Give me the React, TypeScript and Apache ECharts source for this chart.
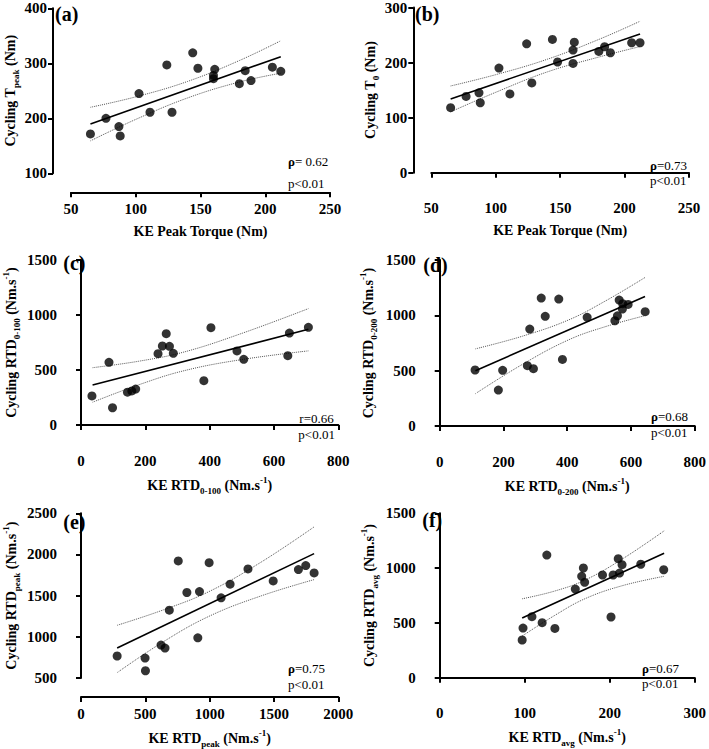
import React, { useEffect, useRef } from "react";
import * as echarts from "echarts";

const FONT = "Liberation Serif";

// ---------- data ----------
// (a) and (b): KE peak torque (Nm)
const keTorque = [65, 77, 87, 88, 102.5, 111, 124, 128, 144, 148, 161, 160, 160, 180, 184.5, 189, 205.5, 212];
const aY = [171.5, 200, 185, 168, 245, 211, 297, 211, 319, 291, 289, 278, 272, 263, 286.5, 268.5, 293, 285.5];
const bY = [118, 138.6, 145, 127, 190, 143, 234, 163, 242, 201, 237, 222.7, 198.5, 220.3, 228.7, 217.8, 236, 236];

const cX = [34, 87, 98, 144.5, 158, 170, 239.5, 253, 265, 275, 287, 382, 404, 485, 506, 643, 648, 707];
const cY = [264, 570, 157, 298, 310, 327, 648, 718, 830, 715, 652, 403, 885, 673, 597, 630, 836, 888];

const dX = [111, 184, 197.5, 275, 294, 282.5, 318.5, 331, 373.5, 385, 462.5, 549.5, 557.5, 563, 574, 591, 573, 644.5];
const dY = [506, 325, 503, 545, 518, 876, 1156, 991, 1147, 602, 982, 951, 996, 1138, 1105, 1099, 1057, 1033];

const eX = [281, 498, 501, 622, 653, 686.5, 756, 823, 908, 921, 996, 1089, 1159, 1298, 1494, 1690, 1747, 1812];
const eY = [767, 742, 588, 900, 864, 1324, 1922, 1538, 988, 1550, 1901, 1473, 1639, 1825, 1679, 1817, 1865, 1776];

const fX = [97, 98, 108.5, 120.5, 126, 135.5, 159.5, 167, 170.5, 169, 191.5, 201.5, 204, 210, 211.5, 214.5, 236.5, 263.5];
const fY = [344, 453, 557, 502, 1119, 450, 809, 925, 870, 1001, 937, 554, 937, 1086, 955, 1031, 1035, 985];

// regression lines (end points) and 95% CI bands
const aFitX = [65, 212];
const aFitY = [189.6, 312];
const aBandX = [65, 100, 140, 180, 212];
const aUpper = [220, 239, 267, 305, 341];
const aLower = [159, 198, 237, 266, 282];

const bFitX = [65, 212];
const bFitY = [134, 252];
const bBandX = [65, 100, 140, 180, 212];
const bUpper = [157.5, 178, 206, 242, 275];
const bLower = [110.5, 146, 183, 210, 229];

const cFitX = [36, 707];
const cFitY = [364, 870];
const cBandX = [36, 180, 321, 500, 707];
const cUpper = [521, 580, 664, 833, 1058];
const cLower = [207, 366, 494, 595, 674];

const dFitX = [112, 644];
const dFitY = [500, 1170];
const dBandX = [112, 260, 404, 520, 644];
const dUpper = [697, 812, 958, 1130, 1342];
const dLower = [292, 558, 778, 898, 997];

const eFitX = [281, 1812];
const eFitY = [865, 2010];
const eBandX = [281, 640, 996, 1400, 1812];
const eUpper = [1140, 1327, 1550, 1907, 2335];
const eLower = [565, 940, 1250, 1497, 1695];

const fFitX = [97, 264];
const fFitY = [545, 1135];
const fBandX = [97, 135, 171, 215, 264];
const fUpper = [720, 790, 891, 1084, 1340];
const fLower = [380, 567, 721, 840, 925];

// axis ranges / ticks
const aXAxis = [50, 250, 50];
const aYAxis = [100, 400, 100];
const bYAxis = [0, 300, 100];
const cdXAxis = [0, 800, 200];
const rtdYAxis = [0, 1500, 500];
const eXAxis = [0, 2000, 500];
const eYAxis = [500, 2500, 500];
const fXAxis = [0, 300, 100];

const panelLabels = ["(a)", "(b)", "(c)", "(d)", "(e)", "(f)"];
const statSymbols = ["ρ", "ρ", "r", "ρ", "ρ", "ρ"];
const statValues = ["= 0.62", "=0.73", "=0.66", "=0.68", "=0.75", "=0.67"];
const pTexts = ["p<0.01", "p<0.01", "p<0.01", "p<0.01", "p<0.01", "p<0.01"];

const yNames = [
  "{n|Cycling T}{sub|peak}{n| (Nm)}",
  "{n|Cycling T}{sub|0}{n| (Nm)}",
  "{n|Cycling RTD}{sub|0-100}{n| (Nm.s}{sup|-1}{n|)}",
  "{n|Cycling RTD}{sub|0-200}{n| (Nm.s}{sup|-1}{n|)}",
  "{n|Cycling RTD}{sub|peak}{n| (Nm.s}{sup|-1}{n|)}",
  "{n|Cycling RTD}{sub|avg}{n| (Nm.s}{sup|-1}{n|)}",
];
const xNames = [
  "{n|KE Peak Torque (Nm)}",
  "{n|KE Peak Torque (Nm)}",
  "{n|KE RTD}{sub|0-100}{n| (Nm.s}{sup|-1}{n|)}",
  "{n|KE RTD}{sub|0-200}{n| (Nm.s}{sup|-1}{n|)}",
  "{n|KE RTD}{sub|peak}{n| (Nm.s}{sup|-1}{n|)}",
  "{n|KE RTD}{sub|avg}{n| (Nm.s}{sup|-1}{n|)}",
];

// ---------- layout ----------
const layout = [
  { left: 71, top: 8.3, width: 259, height: 165, yGap: 32, xGap: 29, lab: [55, 14], st: [288, 161.7], p: [288, 183.3] },
  { left: 431.3, top: 7.3, width: 257.7, height: 165.4, yGap: 32, xGap: 29, lab: [415, 14], st: [650, 165.5], p: [650, 180.5] },
  { left: 80, top: 260, width: 258.3, height: 165, yGap: 42, xGap: 31, lab: [63.3, 263.3], st: [299.3, 418.5], p: [298.3, 434] },
  { left: 439.7, top: 260, width: 257.6, height: 166, yGap: 43, xGap: 31, lab: [423.3, 265], st: [651, 416], p: [651, 432.7] },
  { left: 80, top: 513.3, width: 258.3, height: 165, yGap: 42, xGap: 31, lab: [63.3, 521.7], st: [288, 668.5], p: [288, 684] },
  { left: 439.7, top: 513.3, width: 257.6, height: 164.4, yGap: 42, xGap: 31, lab: [422.3, 520], st: [642, 668], p: [642, 683.5] },
];

const panels = [
  { xs: keTorque, ys: aY, fitX: aFitX, fitY: aFitY, bandX: aBandX, up: aUpper, lo: aLower, xa: aXAxis, ya: aYAxis },
  { xs: keTorque, ys: bY, fitX: bFitX, fitY: bFitY, bandX: bBandX, up: bUpper, lo: bLower, xa: aXAxis, ya: bYAxis },
  { xs: cX, ys: cY, fitX: cFitX, fitY: cFitY, bandX: cBandX, up: cUpper, lo: cLower, xa: cdXAxis, ya: rtdYAxis },
  { xs: dX, ys: dY, fitX: dFitX, fitY: dFitY, bandX: dBandX, up: dUpper, lo: dLower, xa: cdXAxis, ya: rtdYAxis },
  { xs: eX, ys: eY, fitX: eFitX, fitY: eFitY, bandX: eBandX, up: eUpper, lo: eLower, xa: eXAxis, ya: eYAxis },
  { xs: fX, ys: fY, fitX: fFitX, fitY: fFitY, bandX: fBandX, up: fUpper, lo: fLower, xa: fXAxis, ya: rtdYAxis },
];

const zip = (xs: number[], ys: number[]) => xs.map((x, i) => [x, ys[i]]);

const rich = {
  n: { fontFamily: FONT, fontWeight: "bold", fontSize: 14, lineHeight: 20, verticalAlign: "middle", color: "#000" },
  sub: { fontFamily: FONT, fontWeight: "bold", fontSize: 9, lineHeight: 10, verticalAlign: "bottom", color: "#000" },
  sup: { fontFamily: FONT, fontWeight: "bold", fontSize: 9, lineHeight: 10, verticalAlign: "top", color: "#000" },
};

function buildOption() {
  const grid: any[] = [];
  const xAxis: any[] = [];
  const yAxis: any[] = [];
  const series: any[] = [];
  const graphic: any[] = [];

  const axisLine = { show: true, lineStyle: { color: "#000", width: 2 } };
  const axisTick = { show: true, length: 5, lineStyle: { color: "#000", width: 2 } };
  const axisLabelBase = {
    color: "#000", fontFamily: FONT, fontWeight: "bold", fontSize: 15,
    formatter: (v: number) => String(v),
  };

  panels.forEach((p, i) => {
    const L = layout[i];
    grid.push({ left: L.left, top: L.top, width: L.width, height: L.height, containLabel: false });
    xAxis.push({
      type: "value", gridIndex: i, min: p.xa[0], max: p.xa[1], interval: p.xa[2],
      position: "bottom", offset: 19,
      axisLine, axisTick, splitLine: { show: false },
      axisLabel: { ...axisLabelBase, margin: 9 },
      name: xNames[i], nameLocation: "middle", nameGap: L.xGap,
      nameTextStyle: { rich, fontFamily: FONT, fontWeight: "bold", fontSize: 14, color: "#000" },
    });
    yAxis.push({
      type: "value", gridIndex: i, min: p.ya[0], max: p.ya[1], interval: p.ya[2],
      position: "left", offset: 18,
      axisLine, axisTick, splitLine: { show: false },
      axisLabel: { ...axisLabelBase, margin: 6 },
      name: yNames[i], nameLocation: "middle", nameGap: L.yGap, nameRotate: 90,
      nameTextStyle: { rich, fontFamily: FONT, fontWeight: "bold", fontSize: 14, color: "#000" },
    });
    const bandStyle = { color: "#555", width: 1, type: "dotted" };
    series.push({
      type: "line", xAxisIndex: i, yAxisIndex: i, data: zip(p.bandX, p.up), smooth: 0.4,
      showSymbol: false, symbol: "none", lineStyle: bandStyle, z: 2, silent: true,
    });
    series.push({
      type: "line", xAxisIndex: i, yAxisIndex: i, data: zip(p.bandX, p.lo), smooth: 0.4,
      showSymbol: false, symbol: "none", lineStyle: bandStyle, z: 2, silent: true,
    });
    series.push({
      type: "line", xAxisIndex: i, yAxisIndex: i, data: zip(p.fitX, p.fitY),
      showSymbol: false, symbol: "none", lineStyle: { color: "#000", width: 1.6 }, z: 3, silent: true,
    });
    series.push({
      type: "scatter", xAxisIndex: i, yAxisIndex: i, data: zip(p.xs, p.ys),
      symbol: "circle", symbolSize: 9, itemStyle: { color: "#000" }, z: 4,
    });

    graphic.push({
      type: "text", x: L.lab[0], y: L.lab[1],
      style: { text: panelLabels[i], fill: "#000", fontFamily: FONT, fontWeight: "bold", fontSize: 20, align: "left", verticalAlign: "middle" },
    });
    graphic.push({
      type: "text", x: L.st[0], y: L.st[1],
      style: {
        text: `{s|${statSymbols[i]}}{v|${statValues[i]}}`,
        align: "left", verticalAlign: "middle",
        rich: {
          s: { fontFamily: FONT, fontSize: 13, fontWeight: statSymbols[i] === "r" ? "normal" : "bold", fill: "#000", lineHeight: 12 },
          v: { fontFamily: FONT, fontSize: 13, fill: "#000", lineHeight: 12 },
        },
      },
    });
    graphic.push({
      type: "text", x: L.p[0], y: L.p[1],
      style: { text: pTexts[i], fill: "#000", fontFamily: FONT, fontSize: 13, lineHeight: 12, align: "left", verticalAlign: "middle" },
    });
  });

  return { animation: false, backgroundColor: "#fff", grid, xAxis, yAxis, series, graphic };
}

export default function App() {
  const ref = useRef<HTMLDivElement>(null);
  useEffect(() => {
    if (!ref.current) return;
    const chart = echarts.init(ref.current, undefined, { renderer: "svg" });
    chart.setOption(buildOption() as any);
    return () => chart.dispose();
  }, []);
  return <div ref={ref} style={{ position: "fixed", left: 0, top: 0, width: 709, height: 749, background: "#fff" }} />;
}
